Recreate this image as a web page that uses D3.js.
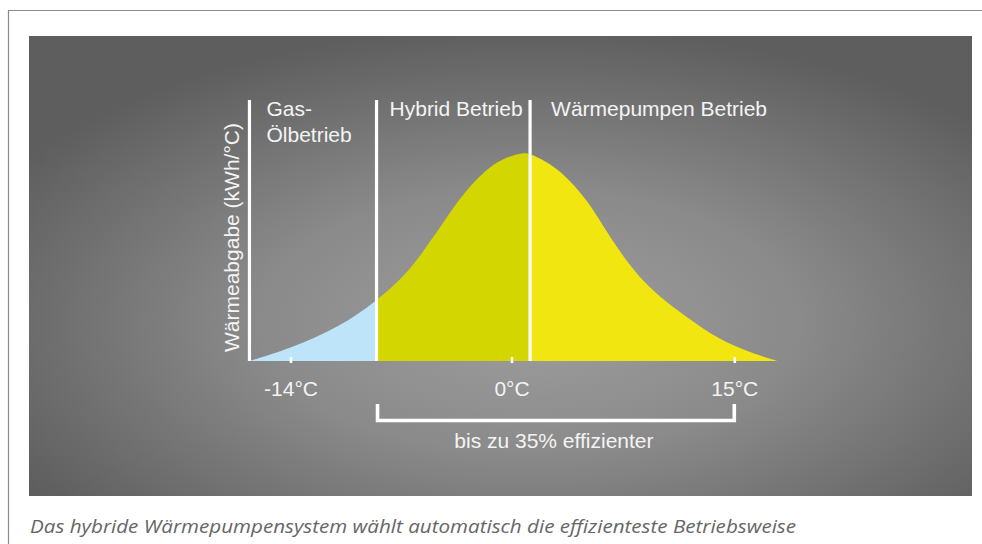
<!DOCTYPE html>
<html>
<head>
<meta charset="utf-8">
<script src="https://cdn.jsdelivr.net/npm/d3@7"></script>
<style>
  html, body { margin: 0; padding: 0; background: #ffffff; }
  svg { display: block; }
</style>
</head>
<body>
<svg id="chart" width="982" height="544"></svg>
<script>
// ---------- DATA ----------
// Outdoor temperature (°C) and heat demand (relative, 0–100)
const temperatures = [-16.6, -14.0, -10.9, -8.5, -6.6, -5.4, -4.5, -3.5, -2.4, -1.4, -0.3, 0.8, 1.25, 2.8, 3.9, 5.1, 6.2, 7.3, 8.4, 9.5, 10.7, 11.8, 12.9, 14.0, 15.2, 16.3, 17.9];
const heatOutput   = [0, 4.8, 12.9, 23.2, 33.6, 43.7, 51.4, 60.5, 68.6, 74.4, 78.2, 79.8, 79.5, 75.0, 69.3, 61.6, 51.4, 41.8, 33.5, 27.1, 21.3, 16.8, 12.4, 8.5, 5.3, 2.8, 0];
// operating zones (boundaries in °C)
const zoneNames  = [["Gas-", "Ölbetrieb"], ["Hybrid Betrieb"], ["Wärmepumpen Betrieb"]];
const zoneStarts = [-16.6, -8.55, 1.25];
const zoneEnds   = [-8.55, 1.25, 17.9];
// x-axis ticks
const tickValues = [-14, 0, 15];
const tickLabels = ["-14°C", "0°C", "15°C"];
// bracket
const bracketRange = [-8.55, 15];
const bracketLabel = "bis zu 35% effizienter";
const yAxisLabel = "Wärmeabgabe (kWh/°C)";
const caption = "Das hybride Wärmepumpensystem wählt automatisch die effizienteste Betriebsweise";

// ---------- STYLE ----------
const zoneColors = ["#bde4f8", "#d4d600", "#f2e611"];
const textColor = "#f4f4f4";
const fontFamily = "'Liberation Sans', Arial, Helvetica, sans-serif";

const svg = d3.select("#chart");

// frame lines
svg.append("line").attr("x1", 8.5).attr("y1", 10.5).attr("x2", 982).attr("y2", 10.5)
  .attr("stroke", "#8c8c8c").attr("stroke-width", 1.2);
svg.append("line").attr("x1", 8.5).attr("y1", 10).attr("x2", 8.5).attr("y2", 544)
  .attr("stroke", "#8c8c8c").attr("stroke-width", 1.2);

// gray panel with radial gradient
const defs = svg.append("defs");
const grad = defs.append("radialGradient").attr("id", "bg")
  .attr("cx", 0.53).attr("cy", 0.62).attr("r", 0.64).attr("fx", 0.53).attr("fy", 0.62);
grad.append("stop").attr("offset", "0%").attr("stop-color", "#9e9e9e");
grad.append("stop").attr("offset", "45%").attr("stop-color", "#8a8a8a");
grad.append("stop").attr("offset", "100%").attr("stop-color", "#5e5e5e");
svg.append("rect").attr("x", 29).attr("y", 36).attr("width", 943).attr("height", 460)
  .attr("fill", "url(#bg)");

// ---------- SCALES ----------
const x = d3.scaleLinear().domain([-14, 0, 15]).range([290.5, 511.5, 734.3]);
const y = d3.scaleLinear().domain([0, 100]).range([361, 100]);

const data = temperatures.map((t, i) => ({ t, v: heatOutput[i] }));

const area = d3.area()
  .x(d => x(d.t))
  .y0(y(0))
  .y1(d => y(d.v))
  .curve(d3.curveBasis);

// zone clip paths and fills
zoneStarts.forEach((s, i) => {
  defs.append("clipPath").attr("id", "zone" + i)
    .append("rect")
    .attr("x", x(s)).attr("y", 0)
    .attr("width", x(zoneEnds[i]) - x(s)).attr("height", 544);
  svg.append("path").datum(data)
    .attr("d", area)
    .attr("fill", zoneColors[i])
    .attr("clip-path", `url(#zone${i})`);
});

// vertical white lines
svg.selectAll("line.zone").data(zoneStarts).join("line")
  .attr("class", "zone")
  .attr("x1", d => x(d)).attr("x2", d => x(d))
  .attr("y1", y(100)).attr("y2", y(0))
  .attr("stroke", "#ffffff").attr("stroke-width", 3.2);

// zone labels
zoneNames.forEach((lines, i) => {
  const t = svg.append("text")
    .attr("x", x(zoneStarts[i]) + 16)
    .attr("y", 116)
    .attr("fill", textColor)
    .attr("font-family", fontFamily)
    .attr("font-size", 21);
  lines.forEach((ln, j) => {
    t.append("tspan").attr("x", x(zoneStarts[i]) + (i === 0 ? 17 : 13) + (i === 2 ? 8 : 0)).attr("dy", j === 0 ? 0 : 25.5).text(ln);
  });
});

// x axis
const xAxis = d3.axisBottom(x)
  .tickValues(tickValues)
  .tickFormat((d, i) => tickLabels[i])
  .tickSize(6)
  .tickPadding(18);
const gx = svg.append("g").attr("transform", `translate(0,${y(0) - 4})`).call(xAxis);
gx.select(".domain").remove();
gx.selectAll(".tick line").attr("stroke", "#ffffff").attr("stroke-width", 2.6);
gx.selectAll(".tick text")
  .attr("fill", textColor)
  .attr("font-family", fontFamily)
  .attr("font-size", 21);

// y-axis label
svg.append("text")
  .attr("transform", `translate(238.5,237.5) rotate(-90)`)
  .attr("text-anchor", "middle")
  .attr("fill", textColor)
  .attr("font-family", fontFamily)
  .attr("font-size", 21)
  .text(yAxisLabel);

// bracket
const bx0 = x(bracketRange[0]) + 1, bx1 = x(bracketRange[1]);
const path = d3.path();
path.moveTo(bx0, 404);
path.lineTo(bx0, 420.5);
path.lineTo(bx1, 420.5);
path.lineTo(bx1, 404);
svg.append("path").attr("d", path.toString())
  .attr("fill", "none").attr("stroke", "#ffffff").attr("stroke-width", 3.6);
svg.append("text")
  .attr("x", (bx0 + bx1) / 2 - 2)
  .attr("y", 448)
  .attr("text-anchor", "middle")
  .attr("fill", textColor)
  .attr("font-family", fontFamily)
  .attr("font-size", 21)
  .text(bracketLabel);

// caption
svg.append("text")
  .attr("x", 30)
  .attr("y", 533)
  .attr("fill", "#666666")
  .attr("font-family", "'Open Sans', 'Noto Sans', sans-serif")
  .attr("font-style", "italic")
  .attr("font-size", 19)
  .attr("textLength", 766)
  .attr("lengthAdjust", "spacingAndGlyphs")
  .text(caption);
</script>
</body>
</html>
